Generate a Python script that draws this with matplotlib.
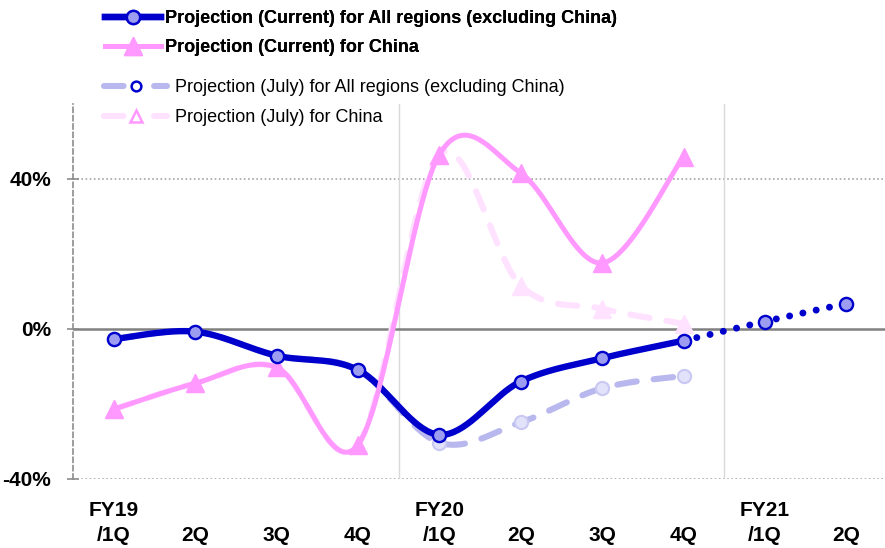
import numpy as np
import matplotlib
matplotlib.use("Agg")
import matplotlib.pyplot as plt
from matplotlib.lines import Line2D

plt.rcParams['font.family'] = ['Liberation Sans', 'DejaVu Sans']

# Quarterly year-over-year growth projections (%)
quarters = ["FY19\n/1Q", "\n2Q", "\n3Q", "\n4Q",
            "FY20\n/1Q", "\n2Q", "\n3Q", "\n4Q",
            "FY21\n/1Q", "\n2Q"]
current_all = [-2.7, -0.7, -7.1, -10.9, -28.2, -14.0, -7.8, -3.1, 2.0, 6.8]
current_china = [-21.4, -14.5, -10.2, -30.9, 46.5, 41.6, 17.6, 46.0]
july_all = [-2.7, -0.7, -7.1, -10.9, -30.3, -24.9, -15.8, -12.5]
july_china = [-21.4, -14.5, -10.2, -30.9, 46.5, 11.6, 5.4, 1.4]
n_solid_all = 8  # points of current_all drawn with a solid line

y_ticks = [-40, 0, 40]
y_tick_labels = ["-40%", "0%", "40%"]

DARK_BLUE = "#0000CC"
BLUE_FILL = "#9C9CF0"
PINK = "#FF99FF"
JULY_BLUE = "#B8B8EE"
JULY_BLUE_FILL = "#E2E2FA"
JULY_PINK = "#FFE2FF"


def smooth(ys, n=40):
    """Bezier smoothing through the points (Catmull-Rom style tangents)."""
    xs = np.arange(len(ys), dtype=float)
    pts = np.column_stack([xs, np.asarray(ys, dtype=float)])
    segs = []
    t = np.linspace(0, 1, n)[:, None]
    for i in range(len(pts) - 1):
        p0 = pts[i - 1] if i > 0 else pts[i]
        p1 = pts[i]
        p2 = pts[i + 1]
        p3 = pts[i + 2] if i + 2 < len(pts) else pts[i + 1]
        c1 = p1 + (p2 - p0) / 6.0
        c2 = p2 - (p3 - p1) / 6.0
        b = ((1 - t) ** 3) * p1 + 3 * ((1 - t) ** 2) * t * c1 \
            + 3 * (1 - t) * t ** 2 * c2 + t ** 3 * p2
        segs.append(b)
    return segs


def join(segs):
    return np.vstack(segs)


W, H = 885, 548
fig = plt.figure(figsize=(W / 100, H / 100), dpi=100)
ax = fig.add_axes([73 / W, 69 / H, 814 / W, 375 / H])
ax.set_xlim(-0.5, 9.5)
ax.set_ylim(-40, 60)

# Frame: dashed left axis only
for side in ("top", "right", "bottom"):
    ax.spines[side].set_visible(False)
ax.spines["left"].set_linestyle((0, (3, 2)))
ax.spines["left"].set_color("#8C8C8C")
ax.spines["left"].set_linewidth(1.2)

# Gridlines
for yv in (40, -40):
    ax.axhline(yv, color="#A6A6A6", lw=1.2, ls=(0, (1, 1.5)), zorder=1)
ax.axhline(0, color="#808080", lw=1.8, zorder=1.5)
for xv in (3.5, 7.5):
    ax.axvline(xv, color="#D9D9D9", lw=1.0, zorder=1)

# July projections (behind)
ja = join(smooth(july_all))
ax.plot(ja[:, 0], ja[:, 1], color=JULY_BLUE, lw=4.4, ls=(0, (3.2, 2.8)),
        dash_capstyle="round", solid_capstyle="round", zorder=2)
ax.plot(range(len(july_all)), july_all, ls="none", marker="o", ms=9.5,
        mfc=JULY_BLUE_FILL, mec="#C8C8F2", mew=1.5, zorder=2.1)

jc = join(smooth(july_china))
ax.plot(jc[:, 0], jc[:, 1], color=JULY_PINK, lw=4.4, ls=(0, (3.2, 2.8)),
        dash_capstyle="round", zorder=2)
ax.plot(range(len(july_china)), july_china, ls="none", marker="^", ms=13,
        mfc=JULY_PINK, mec=JULY_PINK, mew=1, zorder=2.1)

# Current projections
segs_all = smooth(current_all)
solid = join(segs_all[:n_solid_all - 1])
dotted = join(segs_all[n_solid_all - 1:])
ax.plot(solid[:, 0], solid[:, 1], color=DARK_BLUE, lw=4.6,
        solid_capstyle="round", zorder=3)
ax.plot(dotted[:, 0], dotted[:, 1], color=DARK_BLUE, lw=5.0,
        ls=(0, (0.01, 1.95)), dash_capstyle="round", zorder=3)

cc = join(smooth(current_china))
ax.plot(cc[:, 0], cc[:, 1], color=PINK, lw=3.6, solid_capstyle="round",
        zorder=4)
ax.plot(range(len(current_china)), current_china, ls="none", marker="^",
        ms=13.5, mfc=PINK, mec=PINK, mew=1, zorder=5)
ax.plot(range(len(current_all)), current_all, ls="none", marker="o", ms=9.5,
        mfc=BLUE_FILL, mec=DARK_BLUE, mew=1.7, zorder=6)

# Axes ticks and labels
ax.set_yticks(y_ticks)
ax.set_yticklabels(y_tick_labels, fontsize=15, fontweight="bold")
ax.tick_params(axis="y", direction="inout", length=8.6, width=1.2,
               color="#8C8C8C", pad=11.5)
ax.set_xticks(range(len(quarters)))
ax.set_xticklabels(quarters, fontsize=15, fontweight="bold",
                   linespacing=1.4)
ax.tick_params(axis="x", length=0, pad=15.5)

# Legends
cur_handles = [
    Line2D([], [], color=DARK_BLUE, lw=4.6, marker="o", ms=9.5,
           mfc=BLUE_FILL, mec=DARK_BLUE, mew=1.7),
    Line2D([], [], color=PINK, lw=3.6, marker="^", ms=13, mfc=PINK,
           mec=PINK),
]
leg1 = fig.legend(cur_handles,
                  ["Projection (Current) for All regions (excluding China)",
                   "Projection (Current) for China"],
                  loc="upper left", bbox_to_anchor=(105 / W, 1 - 10 / H),
                  frameon=False, borderpad=0, borderaxespad=0,
                  handlelength=3.1, handletextpad=0.2, labelspacing=0.66,
                  prop={"size": 13, "weight": "bold"})
fig.add_artist(leg1)

july_handles = [
    Line2D([], [], color=JULY_BLUE, lw=4.4, ls=(0, (3.2, 5.0)),
           dash_capstyle="round", marker="o", ms=7, mfc="white",
           mec=DARK_BLUE, mew=1.8),
    Line2D([], [], color=JULY_PINK, lw=4.4, ls=(0, (3.2, 5.0)),
           dash_capstyle="round", marker="^", ms=9, mfc="white",
           mec=PINK, mew=1.8),
]
leg2 = fig.legend(july_handles,
                  ["Projection (July) for All regions (excluding China)",
                   "Projection (July) for China"],
                  loc="upper left", bbox_to_anchor=(104 / W, 1 - 79 / H),
                  frameon=False, borderpad=0, borderaxespad=0,
                  handlelength=3.5, handletextpad=0.45, labelspacing=0.72,
                  prop={"size": 13})

fig.savefig("out.png", dpi=100)
